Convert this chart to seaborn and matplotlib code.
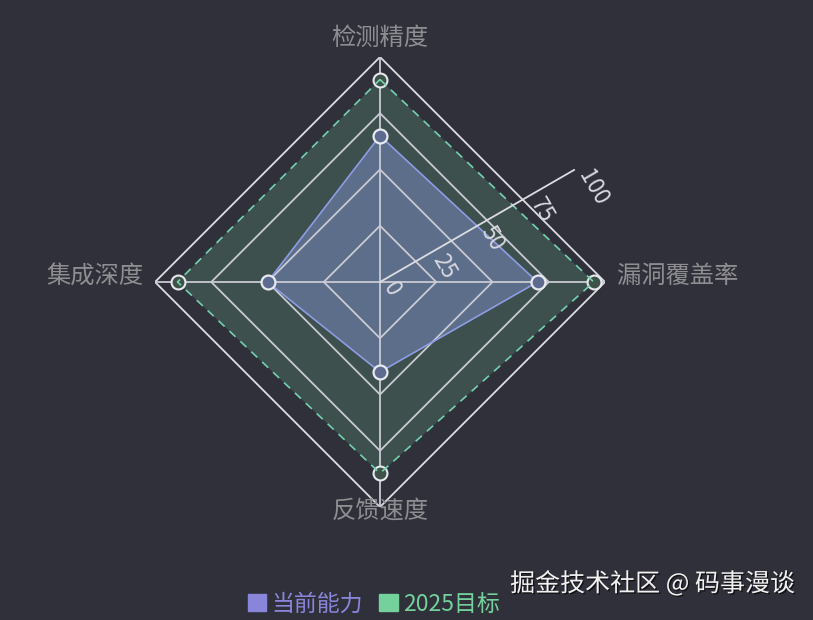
import numpy as np
import pandas as pd
import matplotlib
matplotlib.use('Agg')
import matplotlib.pyplot as plt
import seaborn as sns
from matplotlib.patches import Patch
import matplotlib.patheffects as pe

# data
dimensions = ['检测精度', '漏洞覆盖率', '反馈速度', '集成深度']
current_scores = [65, 70, 40, 50]
target_scores = [90, 95, 85, 90]
series_names = ['当前能力', '2025目标']
radial_ticks = [0, 25, 50, 75, 100]

# colours
bg = '#30303a'
current_color = '#8e9ce6'
current_legend = '#8985da'
target_color = '#74d19c'
target_line = '#72d2b0'
grid_color = '#c9cad3'

sns.set_theme(style='dark', rc={'axes.facecolor': bg, 'figure.facecolor': bg})
plt.rcParams['font.family'] = ['Noto Sans CJK SC', 'DejaVu Sans']

fig = plt.figure(figsize=(8.13, 6.2), dpi=100)
cx, cy, R = 380, 282, 225
ax = fig.add_axes([(cx - R) / 813, (620 - cy - R) / 620, 2 * R / 813, 2 * R / 620],
                  projection='polar')
ax.set_theta_offset(np.pi / 2)
ax.set_theta_direction(-1)
ax.set_ylim(0, 100)
ax.grid(False)
ax.set_xticks([])
ax.set_yticks([])
ax.spines['polar'].set_visible(False)
ax.set_facecolor('none')

n = len(dimensions)
angles = np.arange(n) * 2 * np.pi / n
closed = np.append(angles, angles[0])

# diamond grid rings + spokes
for r in radial_ticks[1:]:
    ax.plot(closed, [r] * (n + 1), color='#dcdce2' if r == 100 else grid_color,
            lw=1.3, zorder=3)
for a in angles:
    ax.plot([a, a], [0, 100], color=grid_color, lw=1.3, zorder=3)

df = pd.DataFrame({
    'theta': np.concatenate([closed, closed]),
    'score': current_scores + current_scores[:1] + target_scores + target_scores[:1],
    'series': [series_names[0]] * (n + 1) + [series_names[1]] * (n + 1),
})
cur = df[df['series'] == series_names[0]]
tgt = df[df['series'] == series_names[1]]

# target polygon
ax.fill(tgt['theta'], tgt['score'], color=target_color, alpha=0.2, lw=0, zorder=1)
sns.scatterplot(data=tgt.iloc[:-1], x='theta', y='score', ax=ax, s=100,
                color='#3e5248', edgecolor='#e6e8ee', linewidth=1.5, zorder=4,
                legend=False)
sns.lineplot(data=tgt, x='theta', y='score', ax=ax, sort=False, estimator=None,
             color=target_line, lw=1.2, zorder=5, legend=False)
ax.lines[-1].set_linestyle((0, (5, 4)))

# current polygon
ax.fill(cur['theta'], cur['score'], color=current_color, alpha=0.4, lw=0, zorder=2)
sns.lineplot(data=cur, x='theta', y='score', ax=ax, sort=False, estimator=None,
             color=current_color, lw=1.2, zorder=4, legend=False)
sns.scatterplot(data=cur.iloc[:-1], x='theta', y='score', ax=ax, s=100,
                color='#5d6b90', edgecolor='#e8eaf2', linewidth=1.6, zorder=6,
                legend=False)
ax.set_xlabel('')
ax.set_ylabel('')
ax.set_ylim(0, 100)

# radial axis with rotated labels
ra = np.deg2rad(60)
ax.plot([ra, ra], [0, 100], color='#dcdce2', lw=1.3, zorder=7)
for t in radial_ticks:
    ax.annotate(str(t), xy=(ra, t), xytext=(9, -2), textcoords='offset pixels',
                rotation=-60, rotation_mode='anchor', ha='left', va='center',
                fontsize=16, color='#d8d8e0', zorder=8)

# dimension names
offsets = [(0, 19, 'center', 'center'), (12, 6, 'left', 'center'),
           (0, -4, 'center', 'center'), (-12, 6, 'right', 'center')]
for a, name, (dx, dy, ha, va) in zip(angles, dimensions, offsets):
    ax.annotate(name, xy=(a, 100), xytext=(dx, dy), textcoords='offset pixels',
                ha=ha, va=va, fontsize=17.5, color='#8e8e92', annotation_clip=False)

# legend
handles = [Patch(color=current_legend), Patch(color=target_color)]
fig.legend(handles, series_names, loc='center', bbox_to_anchor=(374 / 813, 1 - 604 / 620),
           ncol=2, frameon=False, fontsize=16.5, handlelength=0.8, handleheight=0.8,
           handletextpad=0.25, columnspacing=0.7,
           labelcolor=[current_legend, target_color])

# watermark
fig.text(795 / 813, 1 - 584 / 620, '掘金技术社区 @ 码事漫谈', ha='right', va='center',
         fontsize=18, color='#f2f2f2',
         path_effects=[pe.withSimplePatchShadow(offset=(1, -1), shadow_rgbFace='black', alpha=0.6)])

fig.savefig('out.png', dpi=100, facecolor=bg)
